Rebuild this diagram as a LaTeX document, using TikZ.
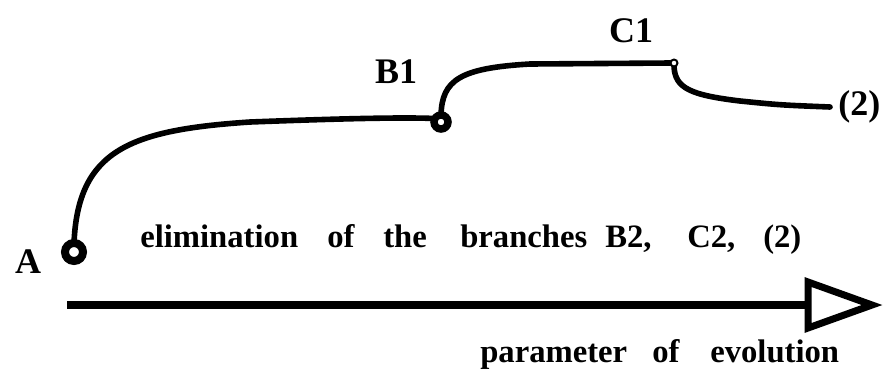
\documentclass[tikz,border=0pt]{standalone}
\usepackage{fontspec}
\setmainfont{Liberation Serif}
\pgfdeclarelayer{bg}
\pgfsetlayers{bg,main}
\begin{document}
\begin{tikzpicture}[x=0.75pt,y=-0.75pt,
  curve/.style={line width=4.2pt, line cap=round},
  ring/.style={circle, draw, fill=white, inner sep=0pt, outer sep=0pt},
  word/.style={anchor=base west, inner sep=0pt, font=\fontsize{24.5}{24.5}\selectfont\bfseries},
  lab/.style={anchor=base, inner sep=0pt, font=\fontsize{27}{27}\selectfont\bfseries}]
\useasboundingbox (0,0) rectangle (887,387);
% branch points
\node[ring, line width=6pt, minimum size=13.5pt] (A) at (74,252) {};
\node[ring, line width=5.6pt, minimum size=10.5pt] (B1) at (441,122) {};
\node[ring, line width=1.5pt, minimum size=5.2pt] (C1) at (674,63) {};
\coordinate (e2) at (830,107);
% curves
\begin{pgfonlayer}{bg}
\draw[curve] (A.north) .. controls (78,150) and (130,130) .. (250,122)
  .. controls (330,119) and (400,117) .. (B1.150);
\draw[curve] (B1.north) .. controls (442,80) and (460,68) .. (530,64) -- (C1.west);
\draw[curve] (C1.south) .. controls (675,88) and (690,95) .. (740,101)
  .. controls (780,105) .. (e2);
\end{pgfonlayer}
% labels
\node[lab] (lA) at (28,273) {A};
\node[lab] (lB) at (396,83) {B1};
\node[lab] (lC) at (631,42) {C1};
\node[lab, anchor=base west] (l2) at (838,115) {(2)};
% middle text
\node[word] (w1) at (140,247) {elimination};
\node[word] (w2) at (327,247) {of};
\node[word] (w3) at (383,247) {the};
\node[word] (w4) at (460,247) {branches};
\node[word] (w5) at (605,247) {B2,};
\node[word] (w6) at (687,247) {C2,};
\node[word] (w7) at (763,247) {(2)};
% axis
\coordinate (s) at (67,305);
\coordinate (h) at (808,305);
\coordinate (t1) at (808,282);
\coordinate (t2) at (872,305);
\coordinate (t3) at (808,328);
\draw[line width=6pt] (s) -- (h);
\draw[line width=5.25pt, line join=miter, miter limit=10] (t1) -- (t2) -- (t3) -- cycle;
\node[word] (p1) at (480,362) {parameter};
\node[word] (p2) at (652,362) {of};
\node[word] (p3) at (710,362) {evolution};
\end{tikzpicture}
\end{document}
